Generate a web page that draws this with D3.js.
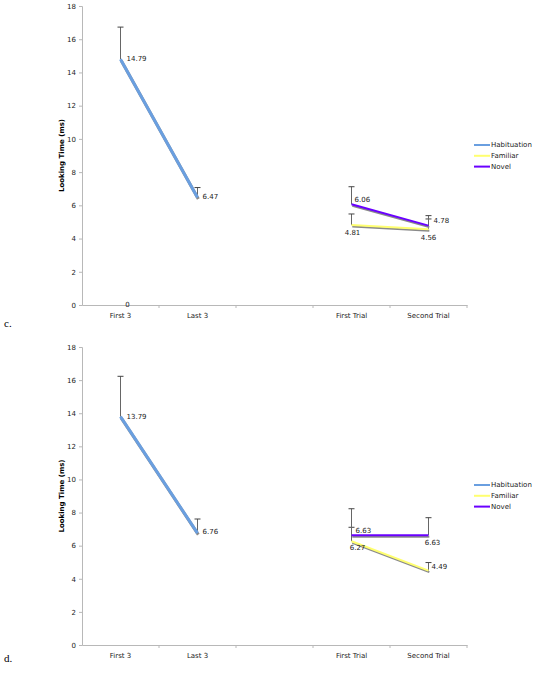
<!DOCTYPE html>
<html><head><meta charset="utf-8">
<script src="https://cdn.jsdelivr.net/npm/d3@7"></script>
<style>body{margin:0;background:#fff}svg{display:block}</style>
</head><body>
<svg id="chart" width="537" height="675"></svg>
<script>
const categories = ["First 3", "Last 3", "", "First Trial", "Second Trial"];
const yTicks = [0, 2, 4, 6, 8, 10, 12, 14, 16, 18];
const seriesNames = ["Habituation", "Familiar", "Novel"];
const habCats = ["First 3", "Last 3"];
const testCats = ["First Trial", "Second Trial"];

// Panel c
const cHabituation = [14.79, 6.47];
const cHabituationErr = [1.94, 0.6];
const cFamiliar = [4.81, 4.56];
const cFamiliarErr = [0.67, 0.62];
const cNovel = [6.06, 4.78];
const cNovelErr = [1.06, 0.6];

// Panel d
const dHabituation = [13.79, 6.76];
const dHabituationErr = [2.44, 0.85];
const dFamiliar = [6.27, 4.49];
const dFamiliarErr = [0.84, 0.49];
const dNovel = [6.63, 6.63];
const dNovelErr = [1.6, 1.06];

const colors = {Habituation: "#6a9fe0", Familiar: "#ffff70", Novel: "#6a00ff"};
const FONT = "DejaVu Sans, Verdana, sans-serif";
const FS = 7;
const svg = d3.select("#chart");

function drawPanel(top, bottom, letter, letterY, hab, habErr, fam, famErr, nov, novErr, labels, legendY) {
  const x = d3.scaleBand().domain(categories).range([82, 467]).padding(0);
  const y = d3.scaleLinear().domain([0, 18]).range([bottom, top]);
  const g = svg.append("g");

  const ya = g.append("g").attr("transform", "translate(82,0)")
    .call(d3.axisLeft(y).tickValues(yTicks).tickSize(3).tickPadding(3));
  ya.select(".domain").attr("stroke", "#b8b8b8");
  ya.selectAll(".tick line").attr("stroke", "#b8b8b8");
  ya.selectAll("text").attr("font-family", FONT).attr("font-size", FS).attr("fill", "#222");

  const xa = g.append("g").attr("transform", `translate(0,${bottom})`)
    .call(d3.axisBottom(x).tickSize(0).tickPadding(8));
  xa.select(".domain").attr("stroke", "#b8b8b8");
  xa.selectAll("text").attr("font-family", FONT).attr("font-size", FS).attr("fill", "#222");
  const bounds = categories.map(c => x(c)).concat([x.range()[1]]).slice(1);
  g.selectAll(".xt").data(bounds).enter().append("line")
    .attr("x1", d => d).attr("x2", d => d).attr("y1", bottom).attr("y2", bottom + 3)
    .attr("stroke", "#b8b8b8");

  g.append("text").attr("transform", `translate(64,${(top + bottom) / 2}) rotate(-90)`)
    .attr("text-anchor", "middle").attr("font-family", FONT).attr("font-size", FS)
    .attr("font-weight", "bold").text("Looking Time (ms)");

  const cx = c => x(c) + x.bandwidth() / 2;
  const line = d3.line().x(d => cx(d.c)).y(d => y(d.v));

  function series(cats, vals, errs, name, w) {
    const pts = cats.map((c, i) => ({c, v: vals[i], e: errs[i]}));
    pts.forEach(p => {
      g.append("line").attr("x1", cx(p.c)).attr("x2", cx(p.c))
        .attr("y1", y(p.v)).attr("y2", y(p.v + p.e)).attr("stroke", "#666").attr("stroke-width", 1);
      g.append("line").attr("x1", cx(p.c) - 3).attr("x2", cx(p.c) + 3)
        .attr("y1", y(p.v + p.e)).attr("y2", y(p.v + p.e)).attr("stroke", "#444").attr("stroke-width", 1);
    });
    g.append("path").datum(pts).attr("d", line).attr("fill", "none")
      .attr("stroke", "#8a8a8a").attr("stroke-width", w).attr("transform", "translate(0.8,1.5)");
    g.append("path").datum(pts).attr("d", line).attr("fill", "none")
      .attr("stroke", colors[name]).attr("stroke-width", w);
  }
  series(habCats, hab, habErr, "Habituation", 3);
  series(testCats, fam, famErr, "Familiar", 2);
  series(testCats, nov, novErr, "Novel", 2);

  labels.forEach(l => {
    g.append("text").attr("x", cx(l.c) + l.dx).attr("y", y(l.v) + l.dy)
      .attr("text-anchor", l.anchor).attr("dominant-baseline", "middle")
      .attr("font-family", FONT).attr("font-size", FS).attr("fill", "#222").text(l.t);
  });

  seriesNames.forEach((n, i) => {
    const ly = legendY + i * 10.8;
    g.append("line").attr("x1", 474).attr("x2", 490).attr("y1", ly).attr("y2", ly)
      .attr("stroke", colors[n]).attr("stroke-width", 2);
    g.append("text").attr("x", 491).attr("y", ly).attr("dominant-baseline", "middle")
      .attr("font-family", FONT).attr("font-size", FS).attr("fill", "#222").text(n);
  });

  svg.append("text").attr("x", 4).attr("y", letterY).attr("font-family", "Liberation Serif, Times New Roman, serif")
    .attr("font-size", 11).text(letter);
}

const cLabels = [
  {c: "First 3", v: 14.79, t: "14.79", dx: 6, dy: 0, anchor: "start"},
  {c: "Last 3", v: 6.47, t: "6.47", dx: 5, dy: 0, anchor: "start"},
  {c: "First 3", v: 0, t: "0", dx: 7, dy: 0, anchor: "middle"},
  {c: "First Trial", v: 6.06, t: "6.06", dx: 3, dy: -4, anchor: "start"},
  {c: "First Trial", v: 4.81, t: "4.81", dx: 1, dy: 8, anchor: "middle"},
  {c: "Second Trial", v: 4.78, t: "4.78", dx: 5, dy: -5, anchor: "start"},
  {c: "Second Trial", v: 4.56, t: "4.56", dx: 0, dy: 9, anchor: "middle"}
];
const dLabels = [
  {c: "First 3", v: 13.79, t: "13.79", dx: 6, dy: 0, anchor: "start"},
  {c: "Last 3", v: 6.76, t: "6.76", dx: 5, dy: -1, anchor: "start"},
  {c: "First Trial", v: 6.63, t: "6.63", dx: 4, dy: -4, anchor: "start"},
  {c: "First Trial", v: 6.27, t: "6.27", dx: 6, dy: 7, anchor: "middle"},
  {c: "Second Trial", v: 6.63, t: "6.63", dx: 4, dy: 8, anchor: "middle"},
  {c: "Second Trial", v: 4.49, t: "4.49", dx: 3, dy: -4, anchor: "start"}
];

drawPanel(6, 305, "c.", 327, cHabituation, cHabituationErr, cFamiliar, cFamiliarErr, cNovel, cNovelErr, cLabels, 145);
drawPanel(347, 645, "d.", 662, dHabituation, dHabituationErr, dFamiliar, dFamiliarErr, dNovel, dNovelErr, dLabels, 485);
</script>
</body></html>
